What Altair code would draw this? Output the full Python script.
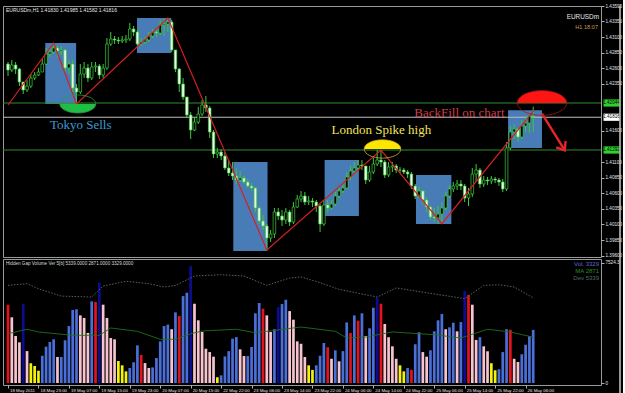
import altair as alt
import pandas as pd

# ---------------- data ----------------
N = 139
bar_index = list(range(N))
first_open = 1.42668

closes = [1.42572, 1.42652, 1.42588, 1.42380, 1.42252, 1.42316, 1.42444, 1.42492, 1.42540, 1.42668,
          1.42828, 1.42860, 1.42924, 1.42876, 1.42892, 1.42604, 1.42668, 1.42284, 1.42220, 1.42508,
          1.42604, 1.42444, 1.42620, 1.42636, 1.42492, 1.42604, 1.42988, 1.43068, 1.43052, 1.43036,
          1.43052, 1.43068, 1.43228, 1.43180, 1.42988, 1.43020, 1.43052, 1.43116, 1.43180, 1.43164,
          1.43292, 1.43308, 1.43340, 1.42892, 1.42588, 1.42348, 1.42140, 1.41852, 1.41612, 1.41740,
          1.41868, 1.42012, 1.41964, 1.41580, 1.41228, 1.41260, 1.41196, 1.41004, 1.40924, 1.40876,
          1.40812, 1.40844, 1.40780, 1.40716, 1.40684, 1.40364, 1.40156, 1.40076, 1.39884, 1.39948,
          1.40300, 1.40236, 1.40172, 1.40300, 1.40140, 1.40380, 1.40508, 1.40556, 1.40460, 1.40476,
          1.40460, 1.40396, 1.40108, 1.40412, 1.40364, 1.40428, 1.40556, 1.40636, 1.40684, 1.40860,
          1.40956, 1.41004, 1.41052, 1.41036, 1.40812, 1.40940, 1.41068, 1.41132, 1.41100, 1.40892,
          1.41020, 1.41036, 1.40972, 1.40972, 1.40940, 1.40908, 1.40716, 1.40556, 1.40636, 1.40492,
          1.40380, 1.40220, 1.40204, 1.40268, 1.40364, 1.40556, 1.40668, 1.40716, 1.40748, 1.40716,
          1.40524, 1.40588, 1.40908, 1.40972, 1.40748, 1.40812, 1.40796, 1.40828, 1.40812, 1.40780,
          1.40668, 1.41324, 1.41580, 1.41628, 1.41500, 1.41676, 1.41724, 1.41830, 1.41816]

highs = [1.42700, 1.42732, 1.42700, 1.42604, 1.42380, 1.42412, 1.42508, 1.42540, 1.42604, 1.42748,
         1.42924, 1.42940, 1.43004, 1.42956, 1.42956, 1.42908, 1.42732, 1.42732, 1.42348, 1.42668,
         1.42700, 1.42668, 1.42700, 1.42700, 1.42668, 1.42668, 1.43084, 1.43180, 1.43116, 1.43100,
         1.43116, 1.43132, 1.43324, 1.43276, 1.43212, 1.43084, 1.43100, 1.43180, 1.43228, 1.43212,
         1.43372, 1.43388, 1.43404, 1.43372, 1.42892, 1.42604, 1.42444, 1.42140, 1.41900, 1.41820,
         1.41980, 1.42092, 1.42156, 1.41996, 1.41612, 1.41324, 1.41308, 1.41260, 1.41132, 1.41100,
         1.41004, 1.40956, 1.40876, 1.40828, 1.40764, 1.40700, 1.40396, 1.40252, 1.40108, 1.40012,
         1.40364, 1.40364, 1.40332, 1.40364, 1.40332, 1.40460, 1.40572, 1.40636, 1.40620, 1.40556,
         1.40524, 1.40492, 1.40428, 1.40492, 1.40492, 1.40492, 1.40620, 1.40700, 1.40732, 1.40940,
         1.41036, 1.41100, 1.41132, 1.41132, 1.41036, 1.41036, 1.41164, 1.41292, 1.41292, 1.41132,
         1.41100, 1.41100, 1.41068, 1.41020, 1.41004, 1.40972, 1.40940, 1.40748, 1.40700, 1.40652,
         1.40540, 1.40396, 1.40364, 1.40396, 1.40460, 1.40620, 1.40732, 1.40780, 1.40812, 1.40812,
         1.40748, 1.40684, 1.41004, 1.41068, 1.41004, 1.40876, 1.40860, 1.40876, 1.40860, 1.40844,
         1.40828, 1.41420, 1.41676, 1.41708, 1.41644, 1.41772, 1.41836, 1.41868, 1.41985]

lows = [1.42476, 1.42540, 1.42508, 1.42316, 1.42188, 1.42220, 1.42284, 1.42412, 1.42476, 1.42540,
        1.42652, 1.42780, 1.42828, 1.42780, 1.42812, 1.42540, 1.42508, 1.42220, 1.42028, 1.42188,
        1.42444, 1.42380, 1.42412, 1.42540, 1.42428, 1.42444, 1.42572, 1.42956, 1.42988, 1.42988,
        1.43004, 1.43004, 1.43036, 1.43116, 1.42940, 1.42956, 1.42988, 1.43020, 1.43084, 1.43100,
        1.43132, 1.43116, 1.43180, 1.42860, 1.42540, 1.42220, 1.42092, 1.41804, 1.41468, 1.41596,
        1.41708, 1.41836, 1.41900, 1.41484, 1.41164, 1.41164, 1.41132, 1.40972, 1.40876, 1.40812,
        1.40748, 1.40780, 1.40748, 1.40684, 1.40636, 1.40300, 1.40108, 1.40012, 1.39692, 1.39820,
        1.39884, 1.40172, 1.40076, 1.40108, 1.40076, 1.40108, 1.40364, 1.40460, 1.40412, 1.40412,
        1.40380, 1.40300, 1.39980, 1.40076, 1.40300, 1.40332, 1.40396, 1.40524, 1.40604, 1.40668,
        1.40812, 1.40924, 1.40972, 1.40972, 1.40748, 1.40780, 1.40908, 1.41036, 1.41020, 1.40844,
        1.40860, 1.40940, 1.40924, 1.40924, 1.40908, 1.40844, 1.40668, 1.40508, 1.40524, 1.40428,
        1.40300, 1.40172, 1.40140, 1.40108, 1.40108, 1.40332, 1.40524, 1.40620, 1.40652, 1.40652,
        1.40460, 1.40396, 1.40540, 1.40780, 1.40684, 1.40700, 1.40732, 1.40748, 1.40764, 1.40716,
        1.40620, 1.40636, 1.41292, 1.41468, 1.41420, 1.41468, 1.41580, 1.41564, 1.41582]

volumes = [4910, 4120, 2950, 2550, 4970, 2000, 1240, 1070, 770, 1710,
           2280, 2570, 2740, 1630, 1630, 2680, 3570, 4580, 4620, 4240,
           4080, 3140, 5120, 5080, 6290, 4910, 4080, 2820, 2740, 1380,
           1110, 730, 940, 1300, 2360, 1760, 1250, 940, 980, 1570,
           2610, 3570, 3660, 3370, 4430, 4200, 5450, 5660, 7340, 4970,
           3930, 3200, 2150, 1940, 1650, 360, 480, 1670, 2000, 2780,
           2880, 2110, 1690, 1690, 2260, 4370, 5020, 4660, 4240, 3200,
           3370, 4750, 4950, 5220, 4510, 3970, 2610, 2460, 1630, 1110,
           820, 1110, 1710, 2510, 2240, 1520, 2050, 1360, 2000, 3800,
           3140, 4240, 3910, 4370, 2950, 3430, 4720, 5350, 4970, 3700,
           2870, 2300, 1520, 1110, 730, 940, 830, 2430, 3180, 1940,
           1650, 2050, 3240, 3930, 4330, 3370, 3490, 3780, 3240, 3820,
           5770, 5520, 4910, 2700, 2870, 2300, 1990, 1240, 800, 860,
           1940, 3370, 3340, 1520, 1320, 1800, 2400, 2930, 3329]

vol_kind = ("R P P P N P Y Y Y B "
            "B B B P B B B B B P "
            "P P B R N P P P P Y "
            "Y Y B B B R P P B B "
            "B B B P B R B B N P "
            "P P P P P Y B B B B "
            "B P P B B B B R P P "
            "B N B B P P P P P Y "
            "Y B B B R P B P B B "
            "R B R B P B B N R P "
            "P P P Y Y B R B B P "
            "P B B B B P B B P B "
            "N R P P B P P Y Y B "
            "B B R P P B B B B").split()

ma_idx = [0, 5, 8, 17, 24, 27, 34, 40, 44, 48, 51, 60, 65, 68, 77, 86, 89, 94, 101, 112, 119, 126, 132, 138]
ma_val = [3090, 3370, 3200, 2990, 2990, 3450, 3240, 2740, 2740, 3090, 3260, 3370, 3150, 3240, 3510,
          3240, 2820, 2880, 3200, 3030, 2820, 3370, 3200, 2871]
dev_idx = [0, 5, 8, 14, 22, 25, 31, 37, 41, 44, 49, 56, 62, 68, 74, 77, 82, 87, 97, 102, 110, 120,
           125, 129, 133, 138]
dev_val = [6120, 6230, 5910, 5450, 5390, 6080, 6380, 6230, 6020, 6120, 6710, 6790, 6710, 6120, 6580,
           6650, 6290, 5870, 5390, 5960, 5660, 5290, 6120, 6160, 6020, 5339]

time_idx = [0, 8, 16, 24, 32, 40, 48, 56, 64, 72, 80, 88, 96, 104, 112, 120, 128, 136]
time_labels = ["18 May 2011", "18 May 23:00", "19 May 07:00", "19 May 15:00", "19 May 23:00",
               "20 May 07:00", "20 May 15:00", "22 May 22:00", "23 May 06:00", "23 May 14:00",
               "23 May 22:00", "24 May 06:00", "24 May 14:00", "24 May 22:00", "25 May 06:00",
               "25 May 14:00", "25 May 22:00", "26 May 06:00"]

# tick labels that are not hidden behind the price boxes on the right
price_ticks = [1.39600, 1.39850, 1.40100, 1.40350, 1.40600, 1.40850, 1.41100, 1.41600,
               1.42350, 1.42600, 1.42850, 1.43100, 1.43350, 1.43595]

box_i0 = [9.8, 33.9, 59.2, 83.2, 107.2, 131.4]
box_i1 = [17.9, 42.9, 68.2, 92.2, 116.5, 140.3]
box_top = [1.43004, 1.43404, 1.41100, 1.41132, 1.40892, 1.41927]
box_bot = [1.42028, 1.42844, 1.39676, 1.40236, 1.40108, 1.41324]

zz_idx = [0, 12, 18, 42, 68, 98, 114, 138.2]
zz_price = [1.42012, 1.43004, 1.42028, 1.43404, 1.39692, 1.41292, 1.40113, 1.41927]

arrow_idx = [140.3, 146.3]
arrow_price = [1.41873, 1.41287]

hline_price = [1.42044, 1.41816, 1.41292]
hline_color = ["#2f8f2f", "#bdbdbd", "#2f8f2f"]
hline_label = ["1.42044", "1.41816", "1.41292"]
hline_box = ["#2ed12e", "#ffffff", "#2ed12e"]

ell_idx = [18.35, 98.4, 140.3]
ell_price = [1.42028, 1.41308, 1.42044]
ell_size = [1296, 1340, 2440]
ell_half = ["bottom", "top", "top"]
ell_fill = ["#1fbf45", "#ffe600", "#ff1414"]
ell_line = ["#2a9a3a", "#cbb52a", "#a81818"]

ann_text = ["Tokyo Sells", "London Spike high", "BackFill on chart"]
ann_idx = [19.1, 98.1, 118.6]
ann_price = [1.41692, 1.41612, 1.41892]
ann_color = ["#3d9ad6", "#f2e25a", "#d23c4a"]

# ---------------- build ----------------
W, H1, H2 = 598, 251, 126
GREEN = "#3cc83c"
FRAME = "#c8c8c8"
xs = alt.Scale(domain=[0, 154.5], nice=False, zero=False)
ys = alt.Scale(domain=[1.3958, 1.43596], nice=False, zero=False)

opens = [first_open] + closes[:-1]
cd = pd.DataFrame({"i": bar_index, "open": opens, "high": highs, "low": lows, "close": closes})
cd["kind"] = ["bear" if c < o else "bull" for o, c in zip(opens, closes)]

price_axis = alt.Axis(orient="right", values=price_ticks, format=".5f", labelFontSize=4.6,
                      labelFont="Liberation Sans", labelColor="#e6e6e6", tickColor="#b0b0b0",
                      tickSize=3, domain=False, grid=False, labelOverlap=False, labelPadding=1,
                      title=None)


def PX(field):
    return alt.X(field, scale=xs, axis=None)


def PY(field):
    return alt.Y(field, scale=ys, axis=price_axis, title=None)


boxes = alt.Chart(pd.DataFrame({"a": box_i0, "b": box_i1, "t": box_top, "u": box_bot})).mark_rect(
    color="#4a80bd", opacity=0.97).encode(x=PX("a:Q"), x2="b:Q", y=PY("t:Q"), y2="u:Q")

hl = pd.DataFrame({"p": hline_price, "c": hline_color, "l": hline_label, "f": hline_box})
hlines = alt.Chart(hl).mark_rule(strokeWidth=1).encode(
    y=PY("p:Q"), color=alt.Color("c:N", scale=None))

wicks = alt.Chart(cd).mark_rule(color=GREEN, strokeWidth=1).encode(
    x=PX("i:Q"), y=PY("low:Q"), y2="high:Q")
bodies = alt.Chart(cd).mark_bar(size=2.6, stroke=GREEN, strokeWidth=0.7).encode(
    x=PX("i:Q"), y=PY("open:Q"), y2="close:Q",
    fill=alt.Fill("kind:N", scale=alt.Scale(domain=["bear", "bull"], range=["#eaffea", "#000000"]),
                  legend=None))

zig = alt.Chart(pd.DataFrame({"i": zz_idx, "p": zz_price})).mark_line(
    color="#d42020", strokeWidth=1.2).encode(x=PX("i:Q"), y=PY("p:Q"))

arrow = alt.Chart(pd.DataFrame({"a": [arrow_idx[0]], "b": [arrow_idx[1]],
                                "p": [arrow_price[0]], "q": [arrow_price[1]]})).mark_rule(
    color="#e8242a", strokeWidth=2.4).encode(x=PX("a:Q"), x2="b:Q", y=PY("p:Q"), y2="q:Q")
CHEV = "M -0.7 0.9 L 0 0 L 0.7 0.9"
arrow_head = alt.Chart(pd.DataFrame({"i": [arrow_idx[1]], "p": [arrow_price[1]]})).mark_point(
    shape=CHEV, size=256, filled=False, color="#e8242a", strokeWidth=2.4, angle=147, opacity=1).encode(
    x=PX("i:Q"), y=PY("p:Q"))

FULL = ("M -1 0 C -1 -0.276 -0.552 -0.5 0 -0.5 C 0.552 -0.5 1 -0.276 1 0 "
        "C 1 0.276 0.552 0.5 0 0.5 C -0.552 0.5 -1 0.276 -1 0 Z")
TOP = "M -1 0 C -1 -0.276 -0.552 -0.5 0 -0.5 C 0.552 -0.5 1 -0.276 1 0 Z"
BOTTOM = "M -1 0 C -1 0.276 -0.552 0.5 0 0.5 C 0.552 0.5 1 0.276 1 0 Z"

ell_layers = []
for k in range(len(ell_idx)):
    d = pd.DataFrame({"i": [ell_idx[k]], "p": [ell_price[k]]})
    ell_layers.append(alt.Chart(d).mark_point(
        shape=TOP if ell_half[k] == "top" else BOTTOM, size=ell_size[k], filled=True,
        color=ell_fill[k], opacity=1, strokeWidth=0).encode(x=PX("i:Q"), y=PY("p:Q")))
    ell_layers.append(alt.Chart(d).mark_point(
        shape=FULL, size=ell_size[k], filled=False, color=ell_line[k], opacity=1,
        strokeWidth=0.8).encode(x=PX("i:Q"), y=PY("p:Q")))

ann = alt.Chart(pd.DataFrame({"t": ann_text, "i": ann_idx, "p": ann_price, "c": ann_color})).mark_text(
    font="Liberation Serif", fontSize=13, align="center", baseline="middle").encode(
    x=PX("i:Q"), y=PY("p:Q"), text="t:N", color=alt.Color("c:N", scale=None))


def label(txt, x, y, size, color, align="left", font="Liberation Sans"):
    return alt.Chart(pd.DataFrame({"t": [txt]})).mark_text(
        font=font, fontSize=size, color=color, align=align, baseline="middle").encode(
        x=alt.value(x), y=alt.value(y), text="t:N")


def frame_rule(x, y, x2, y2):
    return alt.Chart(pd.DataFrame({"t": [0]})).mark_rule(color=FRAME, strokeWidth=1.5).encode(
        x=alt.value(x), y=alt.value(y), x2=alt.value(x2), y2=alt.value(y2))


hdr = label("EURUSDm,H1  1.41830 1.41985 1.41582 1.41816", 3, 3.5, 5, "#e8e8e8")
sym = label("EURUSDm", 596, 11, 6.4, "#e8e8e8", "right")
tf = label("H1    18:07", 595, 20.5, 5.6, "#d09a50", "right")

pbox = alt.Chart(hl).mark_point(
    shape="M -1 -0.45 L 1 -0.45 L 1 0.45 L -1 0.45 Z", size=256, filled=True, opacity=1,
    strokeWidth=0).encode(x=alt.value(608.5), y=PY("p:Q"), color=alt.Color("f:N", scale=None))
ptxt = alt.Chart(hl).mark_text(font="Liberation Sans", fontSize=4.6, color="#000000",
                               align="center", baseline="middle").encode(
    x=alt.value(608.5), y=PY("p:Q"), text="l:N")

right_frame_1 = frame_rule(617, 0, 617, 253)

main = alt.layer(boxes, hlines, wicks, bodies, zig, arrow, arrow_head, *ell_layers, ann,
                 hdr, sym, tf, pbox, ptxt, right_frame_1).properties(width=W, height=H1)

# volume panel
vs = alt.Scale(domain=[-125, 7775], nice=False, zero=False)
vd = pd.DataFrame({"i": bar_index, "v": volumes, "k": vol_kind})
label_arr = "[" + ",".join("'" + s + "'" for s in time_labels) + "]"
time_axis = alt.Axis(values=time_idx, labelExpr=label_arr + "[round(datum.value / 8)]",
                     labelAlign="left", labelAngle=0, labelFontSize=4.4, labelFont="Liberation Sans",
                     labelColor="#e6e6e6", tickColor="#b0b0b0", tickSize=3, domain=False, grid=False,
                     labelOverlap=False, labelPadding=0, labelOffset=1.5, title=None,
                     labelFlush=False)
vol_axis = alt.Axis(orient="right", values=[0, 7524.3],
                    labelExpr="datum.value == 0 ? '0' : '7524.3'", labelFontSize=4.6,
                    labelFont="Liberation Sans", labelColor="#e6e6e6", tickColor="#b0b0b0",
                    tickSize=3, domain=False, grid=False, labelOverlap=False, labelPadding=1,
                    title=None)


def VX(field):
    return alt.X(field, scale=xs, axis=time_axis, title=None)


def VY(field):
    return alt.Y(field, scale=vs, axis=vol_axis, title=None)


vbars = alt.Chart(vd).mark_bar(size=2.7).encode(
    x=VX("i:Q"), y=VY("v:Q"), y2=alt.datum(0),
    color=alt.Color("k:N", scale=alt.Scale(domain=["P", "B", "N", "R", "Y"],
                                           range=["#f6c3cf", "#4a6fd8", "#0c0c8e", "#e3121c", "#f2f20a"]),
                    legend=None))
ma = alt.Chart(pd.DataFrame({"i": ma_idx, "v": ma_val})).mark_line(
    color="#1f6e1f", strokeWidth=0.9).encode(x=VX("i:Q"), y=VY("v:Q"))
dev = alt.Chart(pd.DataFrame({"i": dev_idx, "v": dev_val})).mark_line(
    color="#5f6f5f", strokeWidth=0.9, strokeDash=[1.5, 1.5]).encode(x=VX("i:Q"), y=VY("v:Q"))
vhdr = label("Hidden Gap Volume Ver 5[b] 5339.0000 2871.0000 3329.0000", 3, 5, 4.6, "#d8d8d8")
leg1 = label("Vol.  3329", 596, 5, 6, "#5a6ad0", "right")
leg2 = label("MA  2871", 596, 12, 6, "#2a8a2a", "right")
leg3 = label("Dev  5339", 596, 19, 6, "#4d6d6d", "right")
right_frame_2 = frame_rule(617, 0, 617, 135)

vol = alt.layer(vbars, dev, ma, vhdr, leg1, leg2, leg3, right_frame_2).properties(width=W, height=H2)

chart = alt.vconcat(main, vol, spacing=2, bounds="flush").properties(
    padding={"left": 2, "top": 2, "right": 0, "bottom": 0}, background="#000000"
).configure_view(stroke="#9a9a9a", strokeWidth=1)

chart.save("out.html", embed_options={"renderer": "svg", "actions": False})
